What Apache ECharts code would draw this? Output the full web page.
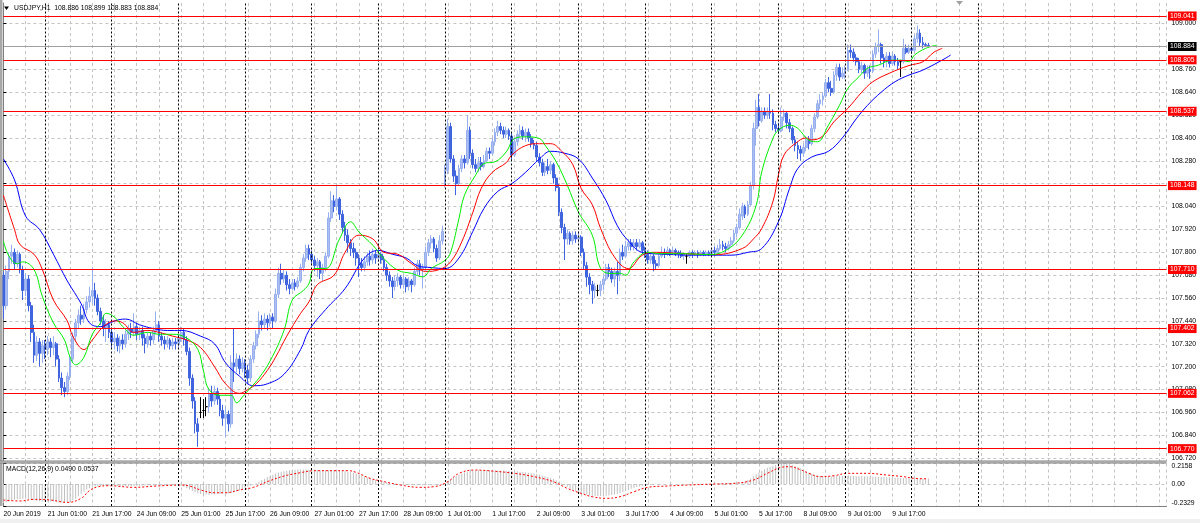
<!DOCTYPE html>
<html>
<head>
<meta charset="utf-8">
<title>USDJPY H1</title>
<script src="https://cdn.jsdelivr.net/npm/echarts@6.0.0/dist/echarts.min.js"></script>
<style>
html,body{margin:0;padding:0;background:#ffffff;overflow:hidden}
#chart{width:1200px;height:523px}
</style>
</head>
<body>
<div id="chart"></div>
<script>
// ================= DATA =================
const titleText = 'USDJPY,H1  108.886 108.899 108.883 108.884';
const macdTitle = 'MACD(12,26,9) 0.0490 0.0537';

// time-axis tick labels, one every 16 hourly bars starting at bar 0
const timeLabels = ['20 Jun 2019','21 Jun 01:00','21 Jun 17:00','24 Jun 09:00','25 Jun 01:00','25 Jun 17:00',
  '26 Jun 09:00','27 Jun 01:00','27 Jun 17:00','28 Jun 09:00','1 Jul 01:00','1 Jul 17:00','2 Jul 09:00',
  '3 Jul 01:00','3 Jul 17:00','4 Jul 09:00','5 Jul 01:00','5 Jul 17:00','8 Jul 09:00','9 Jul 01:00','9 Jul 17:00'];
const labelEvery = 16;

// bar index of each day start (period separators)
const daySeparators = [15,39,63,87,111,135,159,183,207,231,255,279,303,327,351];

// price-axis ticks
const priceTickMin = 106.72, priceTickMax = 109.00, priceTickStep = 0.12;

// horizontal levels and current bid
const priceLevels = [109.041, 108.805, 108.537, 108.148, 107.710, 107.402, 107.062, 106.770];
const bidPrice = 108.884;

// MACD window scale
const macdMax = 0.2158, macdMin = -0.2329;

// OHLC, H1 bars (bar 0 = 20 Jun 09:00)
const opens = [
107.68,107.52,107.70,107.78,107.80,107.74,107.79,107.71,107.60,107.66,107.52,107.38,107.26,107.33,107.27,
107.31,107.29,107.33,107.30,107.32,107.24,107.14,107.09,107.07,107.15,107.24,107.36,107.43,107.47,107.45,107.50,107.54,107.57,107.60,107.56,107.49,107.44,107.40,107.42,
107.38,107.33,107.35,107.31,107.34,107.32,107.37,107.40,107.38,107.41,107.37,107.39,107.35,107.32,107.36,107.34,107.39,107.42,107.36,107.34,107.32,107.34,107.31,107.33,
107.32,107.35,107.38,107.34,107.28,107.14,107.02,106.90,106.96,106.97,106.99,106.99,107.06,107.02,107.07,107.03,106.97,106.93,106.95,106.90,107.22,107.20,107.24,107.19,
107.22,107.18,107.14,107.24,107.31,107.37,107.44,107.42,107.45,107.43,107.46,107.44,107.58,107.69,107.66,107.68,107.63,107.61,107.64,107.62,107.65,107.72,107.77,107.82,
107.79,107.76,107.73,107.75,107.69,107.72,107.78,107.98,108.07,108.04,108.08,108.00,107.93,107.89,107.85,107.82,107.80,107.77,107.74,107.72,107.75,107.78,107.76,107.79,
107.77,107.79,107.76,107.72,107.68,107.65,107.62,107.65,107.67,107.63,107.66,107.62,107.65,107.63,107.70,107.74,107.71,107.72,107.80,107.85,107.87,107.82,107.77,107.86,
108.16,108.23,108.46,108.29,108.20,108.16,108.24,108.29,108.27,108.44,108.32,108.26,108.24,108.27,108.25,108.28,108.33,108.32,108.38,108.43,108.46,108.44,108.42,108.44,
108.41,108.31,108.38,108.42,108.44,108.41,108.43,108.40,108.37,108.36,108.30,108.27,108.22,108.25,108.23,108.26,108.19,108.14,108.01,107.93,107.87,107.90,107.86,107.89,
107.87,107.88,107.80,107.73,107.67,107.63,107.60,107.60,107.60,107.63,107.66,107.72,107.70,107.66,107.70,107.68,107.80,107.78,107.83,107.85,107.83,107.85,107.83,107.85,
107.81,107.79,107.76,107.78,107.74,107.73,107.78,107.80,107.79,107.81,107.80,107.81,107.80,107.79,107.78,107.78,107.78,107.80,107.79,107.80,107.79,107.80,107.79,107.80,
107.79,107.81,107.80,107.82,107.84,107.83,107.82,107.84,107.86,107.90,107.93,107.99,108.04,108.00,108.05,108.15,108.45,108.56,108.49,108.54,108.52,108.54,108.53,108.47,
108.45,108.44,108.51,108.53,108.48,108.45,108.39,108.36,108.34,108.32,108.35,108.39,108.37,108.45,108.51,108.58,108.60,108.62,108.69,108.66,108.64,108.73,108.77,108.72,
108.74,108.76,108.86,108.85,108.82,108.80,108.76,108.78,108.74,108.76,108.75,108.84,108.88,108.89,108.82,108.80,108.83,108.79,108.83,108.80,108.80,108.80,108.87,108.85,
108.87,108.86,108.92,108.95,108.90,108.89,108.886];
const closes = [
107.52,107.70,107.78,107.80,107.74,107.79,107.71,107.60,107.66,107.52,107.38,107.26,107.33,107.27,107.31,
107.29,107.33,107.30,107.32,107.24,107.14,107.09,107.07,107.15,107.24,107.36,107.43,107.47,107.45,107.50,107.54,107.57,107.60,107.56,107.49,107.44,107.40,107.42,107.38,
107.33,107.35,107.31,107.34,107.32,107.37,107.40,107.38,107.41,107.37,107.39,107.35,107.32,107.36,107.34,107.39,107.42,107.36,107.34,107.32,107.34,107.31,107.33,107.32,
107.35,107.38,107.34,107.28,107.14,107.02,106.90,106.86,106.96,106.97,106.99,107.06,107.02,107.07,107.03,106.97,106.93,106.95,106.90,107.22,107.20,107.24,107.19,107.22,
107.18,107.14,107.24,107.31,107.37,107.44,107.42,107.45,107.43,107.46,107.44,107.58,107.69,107.66,107.68,107.63,107.61,107.64,107.62,107.65,107.72,107.77,107.82,107.79,
107.76,107.73,107.75,107.69,107.72,107.78,107.98,108.07,108.04,108.08,108.00,107.93,107.89,107.85,107.82,107.80,107.77,107.74,107.72,107.75,107.78,107.76,107.79,107.77,
107.79,107.76,107.72,107.68,107.65,107.62,107.65,107.67,107.63,107.66,107.62,107.65,107.63,107.70,107.74,107.71,107.72,107.80,107.85,107.87,107.82,107.77,107.86,107.91,
108.23,108.46,108.29,108.20,108.16,108.24,108.29,108.27,108.44,108.32,108.26,108.24,108.27,108.25,108.28,108.33,108.32,108.38,108.43,108.46,108.44,108.42,108.44,108.41,
108.31,108.38,108.42,108.44,108.41,108.43,108.40,108.37,108.36,108.30,108.27,108.22,108.25,108.23,108.26,108.19,108.14,108.01,107.93,107.87,107.90,107.86,107.89,107.87,
107.88,107.80,107.73,107.67,107.63,107.60,107.62,107.60,107.63,107.66,107.72,107.70,107.66,107.70,107.68,107.80,107.78,107.83,107.85,107.83,107.85,107.83,107.85,107.81,
107.79,107.76,107.78,107.74,107.73,107.78,107.80,107.79,107.81,107.80,107.81,107.80,107.79,107.78,107.79,107.78,107.80,107.79,107.80,107.79,107.80,107.79,107.80,107.79,
107.81,107.80,107.82,107.84,107.83,107.82,107.84,107.86,107.90,107.93,108.00,108.04,108.00,108.05,108.15,108.45,108.56,108.49,108.54,108.52,108.54,108.53,108.47,108.45,
108.44,108.51,108.53,108.48,108.45,108.39,108.36,108.34,108.32,108.35,108.39,108.37,108.45,108.51,108.58,108.60,108.62,108.69,108.66,108.64,108.73,108.77,108.72,108.74,
108.76,108.86,108.85,108.82,108.80,108.76,108.78,108.74,108.76,108.75,108.84,108.88,108.89,108.82,108.80,108.83,108.79,108.83,108.80,108.78,108.80,108.87,108.85,108.87,
108.86,108.92,108.95,108.90,108.89,108.886,108.884];
const lows = [
107.45,107.50,107.66,107.74,107.71,107.72,107.69,107.55,107.57,107.49,107.33,107.22,107.23,107.20,107.22,
107.24,107.26,107.25,107.26,107.20,107.12,107.05,107.04,107.05,107.13,107.22,107.33,107.40,107.42,107.43,107.48,107.51,107.53,107.52,107.47,107.42,107.36,107.33,107.35,
107.30,107.29,107.28,107.27,107.29,107.30,107.34,107.35,107.36,107.34,107.34,107.31,107.27,107.30,107.31,107.32,107.37,107.33,107.31,107.29,107.30,107.29,107.29,107.29,
107.30,107.33,107.31,107.26,107.10,106.98,106.85,106.78,106.93,106.93,106.94,106.96,106.99,107.00,107.00,106.94,106.89,106.83,106.86,106.88,107.12,107.17,107.16,107.17,
107.14,107.11,107.12,107.22,107.29,107.35,107.39,107.40,107.39,107.41,107.40,107.43,107.56,107.63,107.64,107.60,107.58,107.60,107.60,107.61,107.64,107.70,107.75,107.76,
107.74,107.70,107.67,107.66,107.65,107.70,107.77,107.96,108.01,108.02,107.97,107.90,107.86,107.80,107.78,107.77,107.73,107.67,107.70,107.70,107.73,107.73,107.74,107.74,
107.75,107.74,107.70,107.65,107.62,107.56,107.60,107.62,107.61,107.61,107.59,107.60,107.59,107.62,107.68,107.68,107.61,107.70,107.78,107.82,107.80,107.75,107.76,107.84,
108.14,108.21,108.27,108.17,108.10,108.15,108.22,108.24,108.26,108.29,108.24,108.22,108.22,108.23,108.24,108.27,108.29,108.31,108.36,108.41,108.42,108.40,108.40,108.39,
108.28,108.30,108.36,108.40,108.39,108.38,108.38,108.35,108.34,108.28,108.25,108.20,108.20,108.21,108.21,108.16,108.12,107.99,107.90,107.76,107.84,107.84,107.84,107.85,
107.85,107.78,107.71,107.62,107.58,107.53,107.56,107.57,107.57,107.60,107.65,107.67,107.64,107.62,107.58,107.65,107.76,107.77,107.81,107.81,107.81,107.81,107.82,107.79,
107.77,107.74,107.74,107.70,107.71,107.72,107.77,107.77,107.78,107.78,107.79,107.78,107.77,107.77,107.76,107.74,107.77,107.77,107.78,107.77,107.78,107.78,107.78,107.78,
107.78,107.78,107.79,107.81,107.81,107.80,107.81,107.83,107.85,107.88,107.92,107.97,107.98,107.99,108.04,108.13,108.36,108.46,108.48,108.50,108.50,108.50,108.44,108.43,
108.42,108.43,108.49,108.45,108.43,108.37,108.33,108.29,108.28,108.30,108.33,108.34,108.36,108.43,108.50,108.55,108.57,108.61,108.64,108.62,108.63,108.70,108.70,108.71,
108.71,108.75,108.82,108.80,108.78,108.74,108.74,108.71,108.72,108.71,108.74,108.82,108.85,108.79,108.77,108.77,108.77,108.78,108.78,108.76,108.72,108.79,108.84,108.84,
108.84,108.85,108.90,108.88,108.87,108.88,108.883];
const highs = [
107.70,107.73,107.80,107.84,107.82,107.81,107.80,107.73,107.69,107.68,107.54,107.42,107.36,107.35,107.34,
107.34,107.36,107.35,107.36,107.33,107.26,107.17,107.12,107.17,107.26,107.38,107.45,107.50,107.52,107.53,107.57,107.62,107.72,107.64,107.58,107.51,107.47,107.45,107.44,
107.40,107.38,107.37,107.36,107.37,107.39,107.42,107.43,107.48,107.43,107.41,107.41,107.37,107.38,107.38,107.41,107.49,107.44,107.38,107.36,107.36,107.35,107.35,107.35,
107.37,107.41,107.40,107.36,107.30,107.16,107.04,106.93,107.04,107.03,107.04,107.09,107.10,107.10,107.09,107.05,107.00,106.99,106.97,107.26,107.40,107.27,107.26,107.25,
107.24,107.21,107.26,107.33,107.39,107.49,107.47,107.48,107.47,107.48,107.48,107.61,107.72,107.74,107.71,107.70,107.66,107.66,107.66,107.67,107.74,107.79,107.84,107.84,
107.81,107.78,107.77,107.76,107.74,107.80,108.01,108.12,108.10,108.15,108.09,108.02,107.96,107.92,107.87,107.85,107.82,107.79,107.77,107.78,107.80,107.81,107.82,107.81,
107.81,107.80,107.78,107.74,107.70,107.67,107.68,107.69,107.68,107.68,107.67,107.67,107.66,107.72,107.76,107.76,107.74,107.83,107.87,107.89,107.88,107.84,107.89,107.94,
108.26,108.50,108.48,108.31,108.23,108.26,108.31,108.31,108.52,108.46,108.34,108.29,108.30,108.30,108.31,108.35,108.35,108.40,108.45,108.49,108.48,108.46,108.46,108.45,
108.43,108.40,108.44,108.47,108.46,108.45,108.45,108.42,108.39,108.38,108.32,108.29,108.27,108.29,108.28,108.27,108.21,108.16,108.03,107.95,107.92,107.91,107.91,107.91,
107.91,107.89,107.82,107.75,107.69,107.65,107.64,107.63,107.65,107.68,107.74,107.74,107.72,107.72,107.75,107.82,107.84,107.86,107.87,107.87,107.87,107.87,107.87,107.86,
107.83,107.81,107.80,107.79,107.76,107.80,107.83,107.82,107.83,107.82,107.83,107.82,107.81,107.81,107.80,107.79,107.81,107.81,107.81,107.81,107.81,107.81,107.81,107.81,
107.82,107.83,107.84,107.87,107.86,107.85,107.86,107.88,107.92,107.95,108.03,108.06,108.05,108.07,108.17,108.48,108.60,108.63,108.56,108.56,108.56,108.63,108.55,108.49,
108.48,108.56,108.55,108.54,108.50,108.46,108.41,108.38,108.36,108.37,108.41,108.41,108.47,108.53,108.60,108.63,108.64,108.71,108.72,108.70,108.75,108.79,108.79,108.77,
108.78,108.89,108.89,108.87,108.84,108.82,108.80,108.79,108.78,108.78,108.86,108.90,108.97,108.90,108.84,108.85,108.85,108.85,108.84,108.82,108.81,108.92,108.89,108.89,
108.88,108.94,108.99,108.97,108.93,108.90,108.899];
// bars drawn in black (open == close)
const dojiIdx = [71, 72, 73, 214, 246, 323];

// Alligator lines: [bar index, price]
const jawPts = [[0,108.29],[4,108.18],[8,107.99],[13,107.92],[18,107.79],[23,107.65],[28,107.53],[31,107.43],[35,107.41],[40,107.44],[44,107.45],[49,107.42],[54,107.40],[59,107.39],[64,107.39],[71,107.36],[76,107.32],[80,107.22],[85,107.15],[90,107.10],[95,107.11],[101,107.16],[107,107.29],[110,107.39],[116,107.50],[123,107.61],[130,107.77],[135,107.81],[140,107.79],[145,107.77],[149,107.73],[154,107.72],[159,107.715],[164,107.77],[169,107.91],[173,108.03],[178,108.12],[183,108.16],[188,108.22],[193,108.29],[197,108.33],[202,108.32],[207,108.29],[212,108.19],[217,108.07],[221,107.94],[225,107.86],[230,107.80],[238,107.79],[250,107.785],[262,107.785],[268,107.80],[273,107.82],[279,107.96],[283,108.135],[286,108.24],[291,108.30],[297,108.33],[302,108.40],[307,108.50],[311,108.57],[316,108.64],[321,108.695],[326,108.73],[331,108.756],[339,108.817],[341,108.835]];
const teethPts = [[0,108.10],[4,107.92],[6,107.84],[11,107.79],[14,107.71],[18,107.55],[23,107.44],[25,107.36],[29,107.29],[32,107.34],[36,107.41],[40,107.44],[43,107.43],[47,107.38],[52,107.39],[56,107.38],[61,107.36],[66,107.34],[71,107.30],[76,107.20],[80,107.11],[85,107.06],[88,107.08],[91,107.11],[95,107.18],[98,107.25],[102,107.36],[107,107.48],[110,107.54],[113,107.63],[119,107.68],[123,107.80],[128,107.89],[133,107.87],[137,107.80],[142,107.79],[147,107.74],[152,107.70],[157,107.71],[161,107.75],[165,107.855],[169,108.01],[172,108.135],[176,108.22],[181,108.27],[183,108.31],[188,108.36],[193,108.37],[197,108.37],[201,108.33],[205,108.26],[208,108.135],[212,108.05],[215,107.925],[220,107.775],[225,107.715],[230,107.785],[235,107.80],[244,107.794],[256,107.788],[266,107.82],[270,107.87],[273,107.925],[277,108.065],[279,108.205],[281,108.31],[285,108.37],[289,108.40],[291,108.39],[295,108.41],[299,108.485],[304,108.555],[309,108.64],[313,108.695],[319,108.74],[326,108.78],[331,108.80],[335,108.85],[338,108.87]];
const lipsPts = [[0,107.86],[2,107.78],[5,107.74],[7,107.75],[11,107.71],[14,107.57],[18,107.43],[22,107.34],[24,107.25],[26,107.21],[29,107.25],[32,107.37],[35,107.43],[37,107.48],[40,107.46],[43,107.41],[47,107.365],[52,107.38],[56,107.37],[61,107.37],[66,107.35],[70,107.29],[72,107.18],[74,107.08],[78,107.05],[82,107.05],[84,107.01],[86,107.04],[89,107.09],[92,107.14],[96,107.23],[101,107.39],[104,107.55],[108,107.60],[110,107.636],[112,107.715],[116,107.715],[121,107.87],[125,107.96],[128,107.907],[133,107.837],[137,107.767],[142,107.706],[147,107.689],[151,107.671],[154,107.715],[159,107.758],[161,107.80],[164,107.977],[166,108.10],[170,108.205],[173,108.266],[177,108.275],[181,108.327],[184,108.397],[188,108.406],[193,108.397],[195,108.362],[199,108.275],[203,108.152],[207,108.012],[212,107.89],[215,107.715],[219,107.689],[222,107.69],[224,107.68],[227,107.75],[232,107.80],[236,107.793],[244,107.793],[254,107.788],[260,107.81],[266,107.89],[271,108.047],[273,108.222],[277,108.397],[279,108.441],[283,108.467],[286,108.45],[290,108.388],[293,108.38],[297,108.467],[301,108.572],[304,108.66],[308,108.721],[311,108.765],[315,108.782],[320,108.808],[323,108.808],[326,108.80],[328,108.835],[332,108.87],[336,108.887]];

// MACD main (histogram), in thousandths, one value per bar
const macdMain = [
-200,-195,-185,-175,-168,-162,-158,-156,-156,-160,
-166,-172,-178,-182,-185,-186,-186,-185,-186,-188,
-192,-196,-198,-196,-188,-174,-154,-130,
-104,-80,-60,-45,-34,-27,-22,
-19,-18,-18,-19,-21,-22,-23,-24,-25,-25,-24,-23,-21,-19,-18,-17,-17,-17,-16,-15,-14,-13,-13,-13,-14,-15,-15,-15,-16,
-20,-30,-45,-60,-75,-88,-98,
-105,-110,-112,-113,-112,-110,-108,-106,-104,-102,-100,-96,-90,-80,-68,-55,-42,
-30,-18,-5,8,22,38,55,72,
85,98,110,120,128,135,140,145,148,150,152,153,153,152,150,
150,149,148,147,146,145,145,144,143,142,140,138,135,130,124,118,110,
100,90,80,70,60,50,42,35,28,22,17,12,8,4,1,
-2,-5,-8,-10,-12,-14,-15,-15,-14,-13,-12,-10,-8,-6,-4,-2,
10,30,50,68,84,98,110,120,128,135,140,143,145,146,147,147,146,
145,144,143,142,141,140,139,137,135,133,130,127,123,119,115,110,104,98,90,82,74,
64,52,38,22,5,-12,-30,-48,-64,-78,
-90,-100,-108,-115,-120,-124,-127,-128,-128,-127,-125,-122,-118,-112,-104,-96,-86,-76,
-64,-52,-42,-33,-26,-20,-15,
-11,-8,-6,-4,-3,-2,-2,-1,-1,0,0,0,-1,-1,-1,-1,0,0,1,1,2,2,3,3,4,
5,6,7,8,9,10,12,14,17,22,30,42,
58,80,102,122,140,156,170,182,192,200,207,212,215,213,208,200,190,178,
164,150,135,120,108,98,90,84,80,79,80,82,84,85,
86,86,86,85,84,83,82,81,80,79,78,77,76,75,74,73,72,70,
68,67,66,65,64,63,62,61,60,58,56,54,52,50,49];
// MACD signal: [bar index, value]
const signalPts = [[0,-0.170],[6,-0.180],[11,-0.163],[17,-0.170],[23,-0.195],[28,-0.152],[31,-0.070],[34,-0.030],[38,-0.019],[47,-0.036],[55,-0.022],[64,-0.012],[67,-0.022],[71,-0.064],[76,-0.093],[80,-0.093],[85,-0.064],[90,-0.036],[95,0.024],[101,0.083],[107,0.119],[112,0.140],[119,0.140],[124,0.140],[127,0.122],[132,0.059],[136,0.031],[143,-0.012],[150,-0.036],[155,-0.029],[160,0.024],[164,0.112],[170,0.147],[176,0.136],[184,0.112],[191,0.077],[198,0.024],[203,-0.047],[208,-0.100],[212,-0.135],[217,-0.152],[222,-0.135],[227,-0.082],[232,-0.036],[239,-0.022],[246,-0.012],[256,-0.001],[263,0.006],[270,0.041],[275,0.112],[280,0.175],[283,0.182],[287,0.150],[290,0.112],[294,0.077],[299,0.087],[304,0.112],[311,0.112],[318,0.094],[324,0.077],[328,0.059],[333,0.054]];

// ================= LAYOUT =================
const FONT = 'Liberation Sans';
const FS = 6.8;
const PLOT_LEFT = 3.4;           // x of bar 0
const BAR_STEP = 2.7778;         // px per bar
const PLOT_RIGHT = 1166.5;
const X_MAX = (PLOT_RIGHT - PLOT_LEFT) / BAR_STEP;
const PLOT_W = PLOT_RIGHT - PLOT_LEFT;
const PX_PER_UNIT = 190.6;
const MAIN_TOP = 3, MAIN_BOTTOM = 461.5;
const Y_AT_109 = 23.6;
const mainMax = 109 + (Y_AT_109 - MAIN_TOP) / PX_PER_UNIT;
const mainMin = 109 - (MAIN_BOTTOM - Y_AT_109) / PX_PER_UNIT;
const tickTop = Y_AT_109 - (priceTickMax - 109) * PX_PER_UNIT;
const tickH = (priceTickMax - priceTickMin) * PX_PER_UNIT;

// ================= BUILD =================
const mainData = [], dojiData = [];
for (let i = 0; i < closes.length; i++) {
  const row = [i, opens[i], closes[i], lows[i], highs[i]];
  if (dojiIdx.indexOf(i) >= 0) dojiData.push(row); else mainData.push(row);
}
const macdData = macdMain.map((v, i) => [i, v / 1000]);

const gridSplit = { show: true, lineStyle: { color: '#c4c4c4', type: [3, 3], width: 1 } };
const sepLine = daySeparators.map(v => ({ xAxis: v }));
const txt = { fontFamily: FONT, fontSize: FS, color: '#000' };

const levelLines = priceLevels.map(p => ({
  yAxis: p,
  lineStyle: { color: '#ff0000', width: 1, type: 'solid' },
  label: { show: true, position: 'end', distance: 1.5, formatter: p.toFixed(3),
    backgroundColor: '#ff0000', color: '#ffffff', fontFamily: FONT, fontSize: FS,
    padding: [1, 2, 0, 2], lineHeight: 8 }
}));
levelLines.push({
  yAxis: bidPrice,
  lineStyle: { color: '#a0a0a0', width: 1, type: 'solid' },
  label: { show: true, position: 'end', distance: 1.5, formatter: bidPrice.toFixed(3),
    backgroundColor: '#000000', color: '#ffffff', fontFamily: FONT, fontSize: FS,
    padding: [1, 2, 0, 2], lineHeight: 8 }
});

const chart = echarts.init(document.getElementById('chart'), null, { renderer: 'canvas', width: 1200, height: 523 });

const option = {
  animation: false,
  backgroundColor: '#ffffff',
  grid: [
    { left: PLOT_LEFT, top: MAIN_TOP, width: PLOT_W, height: MAIN_BOTTOM - MAIN_TOP },
    { left: PLOT_LEFT, top: 463.5, width: PLOT_W, height: 42.5 },
    { left: PLOT_LEFT, top: tickTop, width: PLOT_W, height: tickH }
  ],
  xAxis: [
    { type: 'value', gridIndex: 0, min: 0, max: X_MAX, interval: 8,
      axisLine: { show: false }, axisTick: { show: false }, axisLabel: { show: false }, splitLine: gridSplit },
    { type: 'value', gridIndex: 1, min: 0, max: X_MAX, interval: 8,
      axisLine: { show: true, onZero: false, lineStyle: { color: '#808080' } }, axisTick: { show: false },
      axisLabel: { show: true, align: 'left', margin: 4.5, ...txt,
        formatter: v => (Math.abs(v % labelEvery) < 1e-6 && v / labelEvery < timeLabels.length) ? timeLabels[Math.round(v / labelEvery)] : '' },
      splitLine: gridSplit },
    { type: 'value', gridIndex: 2, min: 0, max: 1, show: false }
  ],
  yAxis: [
    { type: 'value', gridIndex: 0, min: mainMin, max: mainMax, position: 'right',
      axisLine: { show: true, lineStyle: { color: '#808080', width: 1 } }, axisTick: { show: false },
      axisLabel: { show: false }, splitLine: { show: false } },
    { type: 'value', gridIndex: 1, min: macdMin, max: macdMax, interval: -macdMin, position: 'right',
      axisLine: { show: true, lineStyle: { color: '#808080', width: 1 } },
      axisTick: { show: true, length: 3, lineStyle: { color: '#000' } },
      axisLabel: { show: true, margin: 5, ...txt,
        formatter: v => Math.abs(v) < 1e-9 ? '0.00' : (v > 0 ? '{t|' + macdMax.toFixed(4) + '}' : '{b|' + macdMin.toFixed(4) + '}'),
        rich: { t: { fontFamily: FONT, fontSize: FS, color: '#000', padding: [5, 0, 0, 0] },
                b: { fontFamily: FONT, fontSize: FS, color: '#000', padding: [0, 0, 5, 0] } } },
      splitLine: gridSplit },
    { type: 'value', gridIndex: 2, min: priceTickMin, max: priceTickMax, interval: priceTickStep, position: 'right',
      axisLine: { show: false },
      axisTick: { show: true, length: 3, lineStyle: { color: '#000' } },
      axisLabel: { show: true, margin: 5, ...txt, formatter: v => v.toFixed(3) },
      splitLine: gridSplit }
  ],
  series: [
    { type: 'candlestick', name: 'bars', xAxisIndex: 0, yAxisIndex: 0, data: mainData, barWidth: 2.2,
      itemStyle: { color: '#aabef3', color0: '#3f64dd', borderColor: '#98afee', borderColor0: '#3f64dd', borderWidth: 1 },
      markLine: { silent: true, symbol: ['none', 'none'], label: { show: false },
        lineStyle: { color: '#000000', type: [2, 2], width: 1 }, data: sepLine, animation: false } },
    { type: 'candlestick', name: 'doji', xAxisIndex: 0, yAxisIndex: 0, data: dojiData, barWidth: 2.2,
      itemStyle: { color: '#000', color0: '#000', borderColor: '#000', borderColor0: '#000', borderWidth: 1 } },
    { type: 'line', name: 'jaw', xAxisIndex: 0, yAxisIndex: 0, data: jawPts, showSymbol: false, smooth: 0.4,
      lineStyle: { color: '#0000ff', width: 1 } },
    { type: 'line', name: 'teeth', xAxisIndex: 0, yAxisIndex: 0, data: teethPts, showSymbol: false, smooth: 0.4,
      lineStyle: { color: '#ff0000', width: 1 } },
    { type: 'line', name: 'lips', xAxisIndex: 0, yAxisIndex: 0, data: lipsPts, showSymbol: false, smooth: 0.4,
      lineStyle: { color: '#00ee00', width: 1 },
      markLine: { silent: true, symbol: ['none', 'none'], data: levelLines, animation: false } },
    { type: 'bar', name: 'macd', xAxisIndex: 1, yAxisIndex: 1, data: macdData, barWidth: 1,
      itemStyle: { color: '#c0c0c0' },
      markLine: { silent: true, symbol: ['none', 'none'], label: { show: false },
        lineStyle: { color: '#000000', type: [2, 2], width: 1 }, data: sepLine, animation: false } },
    { type: 'line', name: 'signal', xAxisIndex: 1, yAxisIndex: 1, data: signalPts, showSymbol: false, smooth: 0.4,
      lineStyle: { color: '#ff0000', width: 1, type: [2, 2] } }
  ],
  graphic: [
    { type: 'rect', silent: true, z: 50, shape: { x: 0, y: 0, width: 2.5, height: 506 }, style: { fill: '#a8a8a8' } },
    { type: 'rect', silent: true, z: 50, shape: { x: 0, y: 461, width: PLOT_RIGHT, height: 2 }, style: { fill: '#d0d0d0' } },
    { type: 'line', silent: true, z: 51, shape: { x1: 0, y1: 461, x2: PLOT_RIGHT, y2: 461 }, style: { stroke: '#808080', lineWidth: 1 } },
    { type: 'line', silent: true, z: 51, shape: { x1: 0, y1: 463, x2: PLOT_RIGHT, y2: 463 }, style: { stroke: '#808080', lineWidth: 1 } },
    { type: 'rect', silent: true, z: 50, shape: { x: 0, y: 519, width: 1200, height: 4 }, style: { fill: '#f0f0f0' } },
    { type: 'polygon', silent: true, z: 60, shape: { points: [[4, 6.5], [9, 6.5], [6.5, 10]] }, style: { fill: '#000' } },
    { type: 'text', silent: true, z: 60, x: 14, y: 8.5,
      style: { text: titleText, font: FS + 'px ' + FONT, fill: '#000', verticalAlign: 'middle', align: 'left' } },
    { type: 'text', silent: true, z: 60, x: 6, y: 469,
      style: { text: macdTitle, font: FS + 'px ' + FONT, fill: '#000', verticalAlign: 'middle', align: 'left' } },
    { type: 'polygon', silent: true, z: 60, shape: { points: [[956, 1], [963, 1], [959.5, 5]] }, style: { fill: '#a0a0a0' } }
  ]
};
chart.setOption(option);
</script>
</body>
</html>
